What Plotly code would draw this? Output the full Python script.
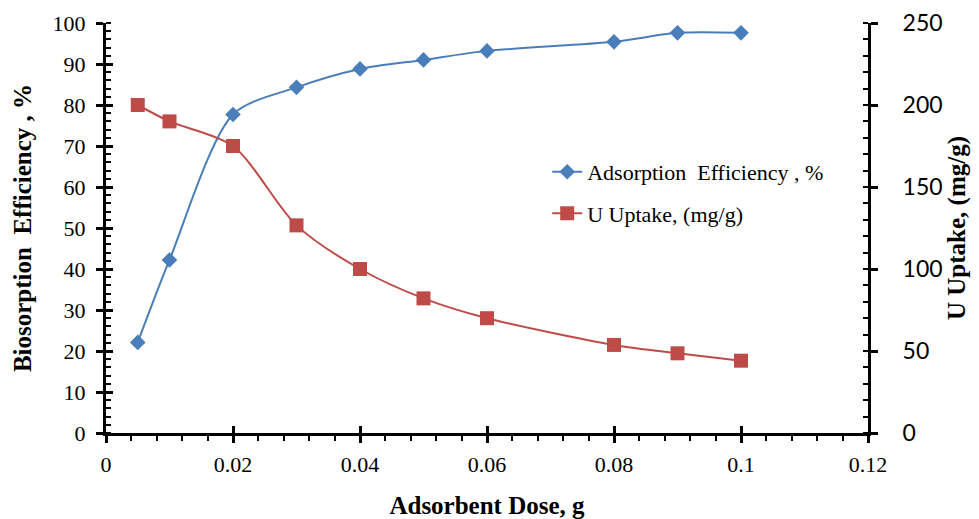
import plotly.graph_objects as go

dose = [0.005, 0.01, 0.02, 0.03, 0.04, 0.05, 0.06, 0.08, 0.09, 0.1]
efficiency = [22.1, 42.2, 77.7, 84.3, 88.8, 91.0, 93.2, 95.4, 97.6, 97.6]
uptake = [200, 190, 175, 126.6, 100, 82.1, 70, 53.7, 48.6, 44.1]

BLUE = "#4A7EBB"
RED = "#BE4B48"
SERIF = "Liberation Serif, Times New Roman, serif"

fig = go.Figure()
fig.add_trace(go.Scatter(
    x=dose, y=efficiency, name="Adsorption\u00a0 Efficiency , %",
    mode="lines+markers", line=dict(color=BLUE, width=2, shape="spline", smoothing=0.8),
    marker=dict(symbol="diamond", size=12, color=BLUE, line=dict(width=0)),
    legendgroup="a", yaxis="y"))
fig.add_trace(go.Scatter(
    x=dose, y=uptake, name="U Uptake, (mg/g)",
    mode="lines+markers", line=dict(color=RED, width=2, shape="spline", smoothing=0.8),
    marker=dict(symbol="square", size=14, color=RED, line=dict(width=0)),
    legendgroup="b", yaxis="y2"))
# invisible trace to activate overlay axes used for inside major ticks
fig.add_trace(go.Scatter(x=[None], y=[None], xaxis="x2", yaxis="y3",
                         showlegend=False, hoverinfo="skip"))

axis_common = dict(showgrid=False, zeroline=False, showline=True, automargin=False,
                   linecolor="black", linewidth=3, ticks="outside",
                   tickcolor="black", tickwidth=3, ticklen=7)

fig.update_layout(
    width=979, height=519,
    margin=dict(l=106, r=111, t=23, b=86),
    paper_bgcolor="white", plot_bgcolor="white",
    showlegend=True,
    legend=dict(x=0.579, y=0.688, xanchor="left", yanchor="top",
                font=dict(family=SERIF, size=22, color="black"),
                bgcolor="rgba(0,0,0,0)", traceorder="grouped", tracegroupgap=10),
    xaxis=dict(range=[0, 0.12], dtick=0.02, tick0=0, **axis_common,
               minor=dict(ticks="outside", dtick=0.004, ticklen=5, tickwidth=2, tickcolor="black"),
               tickfont=dict(family=SERIF, size=22, color="black"),
               ticklabelstandoff=3,
               title=dict(text="<b>Adsorbent Dose, g</b>", standoff=22,
                          font=dict(family=SERIF, size=25, color="black"))),
    yaxis=dict(range=[0, 100], dtick=10, **axis_common,
               minor=dict(ticks="inside", dtick=2, ticklen=5, tickwidth=2, tickcolor="black"),
               tickfont=dict(family=SERIF, size=22, color="black"),
               ticklabelstandoff=6,
               title=dict(text="<b>Biosorption\u00a0 Efficiency , %</b>", standoff=14,
                          font=dict(family=SERIF, size=25, color="black"))),
    yaxis2=dict(range=[0, 250], dtick=50, overlaying="y", side="right", anchor="x",
                **axis_common,
                minor=dict(ticks="inside", dtick=10, ticklen=5, tickwidth=2, tickcolor="black"),
                tickfont=dict(family="Lato, Carlito, sans-serif", size=23, color="black"),
                ticklabelstandoff=20,
                title=dict(text="<b>U Uptake, (mg/g)</b>", standoff=5,
                           font=dict(family=SERIF, size=25, color="black"))),
    xaxis2=dict(range=[0, 0.12], dtick=0.02, overlaying="x", anchor="y3",
                showgrid=False, zeroline=False, showline=False, automargin=False,
                ticks="inside", ticklen=7, tickwidth=3, tickcolor="black",
                showticklabels=False),
    yaxis3=dict(range=[0, 100], dtick=10, overlaying="y", anchor="x2", side="left",
                showgrid=False, zeroline=False, showline=False, automargin=False,
                ticks="inside", ticklen=7, tickwidth=3, tickcolor="black",
                showticklabels=False),
)

fig.write_html("out.html")
